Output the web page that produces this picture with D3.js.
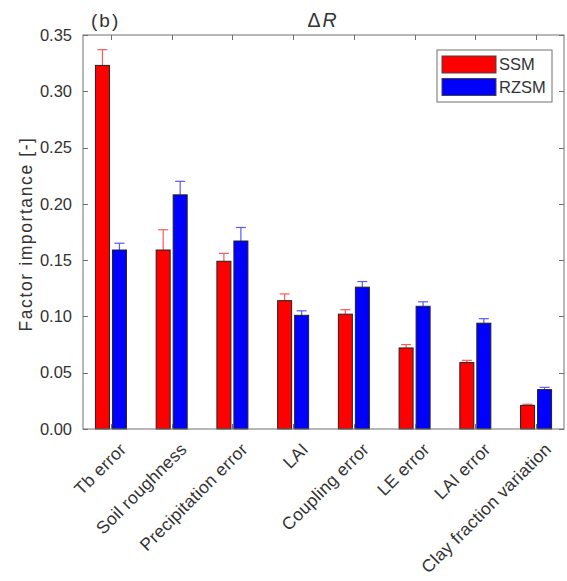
<!DOCTYPE html>
<html>
<head>
<meta charset="utf-8">
<script src="https://cdn.jsdelivr.net/npm/d3@7"></script>
<style>
  html, body { margin: 0; padding: 0; background: #fff; }
  text { font-family: "Liberation Sans", Arial, sans-serif; fill: #333; }
</style>
</head>
<body>
<svg id="chart" width="567" height="581"></svg>
<script>
// Factors ranked by importance for the change in R
const factors = ["Tb error", "Soil roughness", "Precipitation error", "LAI",
                 "Coupling error", "LE error", "LAI error", "Clay fraction variation"];
const ssm      = [0.323, 0.159, 0.149, 0.114, 0.102, 0.072, 0.059, 0.021];
const ssmErr   = [0.014, 0.018, 0.007, 0.006, 0.004, 0.003, 0.002, 0.001];
const rzsm     = [0.159, 0.208, 0.167, 0.101, 0.126, 0.109, 0.094, 0.035];
const rzsmErr  = [0.006, 0.012, 0.012, 0.004, 0.005, 0.004, 0.004, 0.002];
const yTicks   = [0, 0.05, 0.10, 0.15, 0.20, 0.25, 0.30, 0.35];
const seriesNames = ["SSM", "RZSM"];
const seriesColors = ["#ff0000", "#0000ff"];
const errColors = ["#ff5a5a", "#5a5aff"];

const svg = d3.select("#chart");
const plotL = 83, plotR = 564, plotT = 35, plotB = 429;

const x = d3.scaleLinear().domain([0.54, 8.46]).range([plotL, plotR]);
const y = d3.scaleLinear().domain([0, 0.35]).range([plotB, plotT]);

const barW = 14, offset = 8.5;
const axisColor = "#707070";

const series = [
  { values: ssm, errs: ssmErr, dx: -offset },
  { values: rzsm, errs: rzsmErr, dx: offset }
];

// bars with error caps
series.forEach((s, si) => {
  const g = svg.append("g");
  s.values.forEach((v, i) => {
    const cx = x(i + 1) + s.dx;
    // error whisker (upper part shows above the bar)
    g.append("line")
      .attr("x1", cx).attr("x2", cx)
      .attr("y1", y(v)).attr("y2", y(v + s.errs[i]))
      .attr("stroke", errColors[si]).attr("stroke-width", 1.2);
    g.append("line")
      .attr("x1", cx - 5).attr("x2", cx + 5)
      .attr("y1", y(v + s.errs[i])).attr("y2", y(v + s.errs[i]))
      .attr("stroke", errColors[si]).attr("stroke-width", 1.2);
    g.append("rect")
      .attr("x", cx - barW / 2).attr("y", y(v))
      .attr("width", barW).attr("height", y(0) - y(v))
      .attr("fill", seriesColors[si])
      .attr("stroke", "#222").attr("stroke-width", 1);
  });
});

// axes box
svg.append("rect")
  .attr("x", plotL).attr("y", plotT)
  .attr("width", plotR - plotL).attr("height", plotB - plotT)
  .attr("fill", "none").attr("stroke", axisColor).attr("stroke-width", 1);

// y ticks (inward, both sides) and labels
yTicks.forEach(t => {
  const yy = Math.round(y(t)) + 0.5;
  svg.append("line").attr("x1", plotL).attr("x2", plotL + 5)
    .attr("y1", yy).attr("y2", yy).attr("stroke", axisColor);
  svg.append("line").attr("x1", plotR - 5).attr("x2", plotR)
    .attr("y1", yy).attr("y2", yy).attr("stroke", axisColor);
  svg.append("text")
    .attr("x", plotL - 11).attr("y", y(t))
    .attr("dy", "0.35em").attr("text-anchor", "end")
    .attr("font-size", 16.5)
    .text(d3.format(".2f")(t));
});

// x ticks (inward, top and bottom) and rotated labels
factors.forEach((f, i) => {
  const xx = Math.round(x(i + 1)) + 0.5;
  svg.append("line").attr("x1", xx).attr("x2", xx)
    .attr("y1", plotT).attr("y2", plotT + 5).attr("stroke", axisColor);
  svg.append("line").attr("x1", xx).attr("x2", xx)
    .attr("y1", plotB - 5).attr("y2", plotB).attr("stroke", axisColor);
  svg.append("text")
    .attr("transform", `translate(${x(i + 1) + 12},${plotB + 17}) rotate(-45)`)
    .attr("text-anchor", "end")
    .attr("dy", "0.35em")
    .attr("font-size", 17.5)
    .attr("letter-spacing", 0.3)
    .text(f);
});

// y axis label
svg.append("text")
  .attr("transform", `translate(26,${(plotT + plotB) / 2 + 2}) rotate(-90)`)
  .attr("text-anchor", "middle").attr("dy", "0.35em")
  .attr("font-size", 17.5)
  .attr("letter-spacing", 1.6)
  .text("Factor importance [-]");

// title and panel tag
const title = svg.append("text")
  .attr("x", 323).attr("y", 27)
  .attr("text-anchor", "middle").attr("font-size", 19.5)
  .attr("letter-spacing", 2);
title.append("tspan").text("Δ");
title.append("tspan").attr("font-style", "italic").text("R");

svg.append("text").attr("x", 91).attr("y", 27)
  .attr("font-size", 19).attr("letter-spacing", 2).text("(b)");

// legend
const lg = svg.append("g");
lg.append("rect")
  .attr("x", 437).attr("y", 50).attr("width", 115).attr("height", 52)
  .attr("fill", "#fff").attr("stroke", axisColor).attr("stroke-width", 1);
seriesNames.forEach((n, i) => {
  const yy = 56 + i * 22.5;
  lg.append("rect")
    .attr("x", 442).attr("y", yy).attr("width", 54).attr("height", 17)
    .attr("fill", seriesColors[i]).attr("stroke", "#444").attr("stroke-width", 1);
  lg.append("text")
    .attr("x", 499).attr("y", yy + 8.5).attr("dy", "0.35em")
    .attr("font-size", 16.5).text(n);
});
</script>
</body>
</html>
